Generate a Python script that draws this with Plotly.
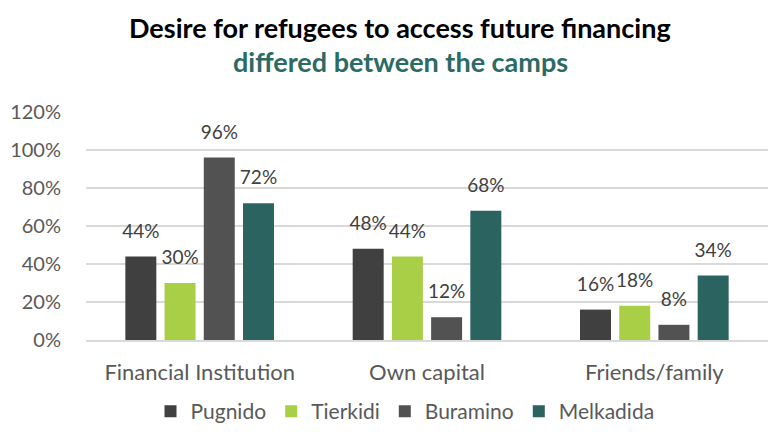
import plotly.graph_objects as go

categories = ['Financial Institution', 'Own capital', 'Friends/family']
camps = ['Pugnido', 'Tierkidi', 'Buramino', 'Melkadida']
values = {
    'Pugnido': [44, 48, 16],
    'Tierkidi': [30, 44, 18],
    'Buramino': [96, 12, 8],
    'Melkadida': [72, 68, 34],
}
ytick_vals = [0, 20, 40, 60, 80, 100, 120]
ytick_text = ['0%', '20%', '40%', '60%', '80%', '100%', '120%']

colors = {
    'Pugnido': '#404040',
    'Tierkidi': '#a9cf46',
    'Buramino': '#525252',
    'Melkadida': '#2a635f',
}
font = 'Lato, Calibri, Carlito, sans-serif'

W, H = 768, 432

fig = go.Figure()
for camp in camps:
    fig.add_trace(go.Bar(
        x=categories,
        y=values[camp],
        name=camp,
        marker=dict(color=colors[camp], line=dict(width=0)),
        hoverinfo='skip',
    ))
# labels as grouped text points so they sit a little above the bars
for camp in camps:
    fig.add_trace(go.Scatter(
        x=categories,
        y=values[camp],
        mode='markers+text',
        marker=dict(size=21, color='rgba(0,0,0,0)'),
        text=[f'{v}%' for v in values[camp]],
        textposition='top center',
        textfont=dict(size=19, color='#404040', family=font),
        cliponaxis=False,
        showlegend=False,
        hoverinfo='skip',
    ))

# plot area placed with domains so the legend does not push margins
fig.update_layout(
    width=W, height=H,
    margin=dict(l=0, r=0, t=0, b=0),
    paper_bgcolor='white', plot_bgcolor='white',
    barmode='group', bargap=0.31, bargroupgap=0.21,
    scattermode='group', scattergap=0.31,
    font=dict(family=font, color='#595959'),
    showlegend=True,
    legend=dict(orientation='h', x=405 / W, xanchor='center', y=0.0, yanchor='bottom',
                font=dict(size=21, color='#595959'), traceorder='normal'),
    annotations=[
        dict(text='<b>Desire for refugees to access future financing</b>', x=400 / W, y=1 - 27 / H,
             xref='paper', yref='paper', showarrow=False, xanchor='center', yanchor='middle',
             font=dict(size=27, color='#000000', family=font)),
        dict(text='<b>differed between the camps</b>', x=400 / W, y=1 - 62 / H,
             xref='paper', yref='paper', showarrow=False, xanchor='center', yanchor='middle',
             font=dict(size=27, color='#2b6b63', family=font)),
    ],
)
fig.update_yaxes(range=[0, 120], tickvals=ytick_vals, ticktext=ytick_text,
                 domain=[(H - 340) / H, (H - 112) / H], automargin=False,
                 showgrid=True, gridcolor='#d9d9d9', gridwidth=1.5, zeroline=False,
                 showline=False, tickfont=dict(size=20, color='#595959'), ticklabelstandoff=24)
fig.update_xaxes(domain=[86 / W, 1], automargin=False,
                 showline=True, linecolor='#d9d9d9', linewidth=1.5, ticks='',
                 tickfont=dict(size=22, color='#595959'), ticklabelstandoff=12)

fig.write_html('out.html', config={'displayModeBar': False},
               post_script="document.body.style.margin='0';")
